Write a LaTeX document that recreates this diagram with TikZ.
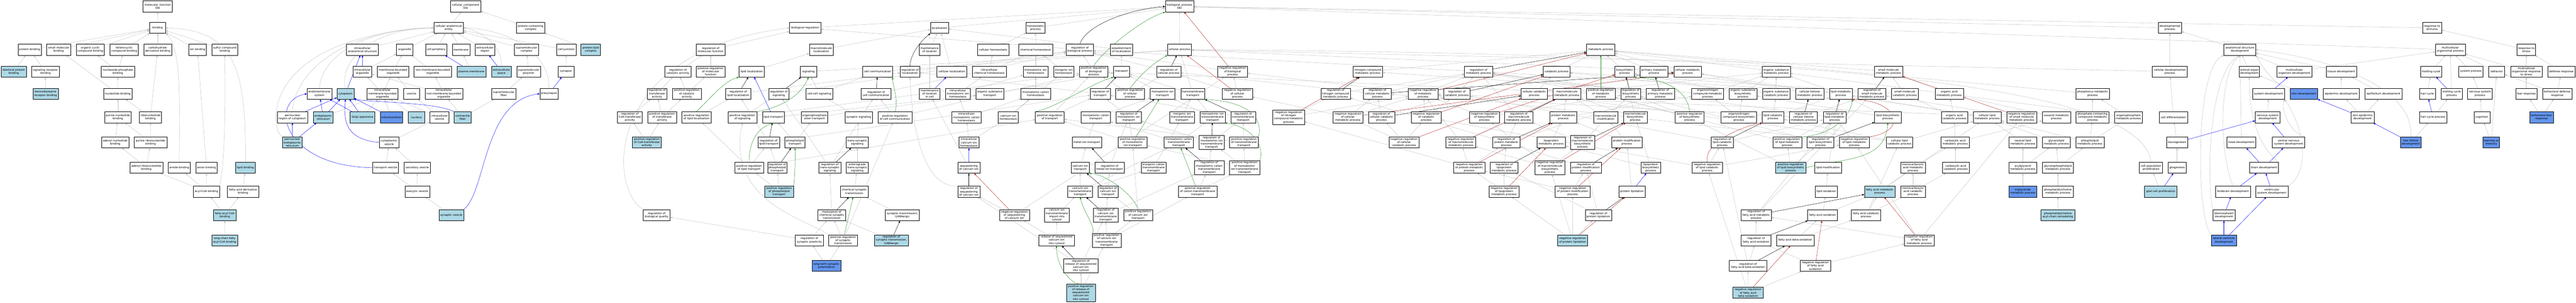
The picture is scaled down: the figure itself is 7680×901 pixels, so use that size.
\documentclass[tikz,border=0pt]{standalone}
\usepackage{fontspec}
\setmainfont{DejaVu Sans}
\usetikzlibrary{arrows.meta}
\pgfdeclarelayer{bg}
\pgfdeclarelayer{paper}
\pgfsetlayers{paper,bg,main}
\definecolor{lblue}{HTML}{ADD8E6}
\definecolor{cblue}{HTML}{6495ED}
\definecolor{egray}{HTML}{C0C0C0}
\definecolor{egreen}{HTML}{228B22}
\definecolor{ered}{HTML}{B22222}
\newcommand{\GoNode}[6]{\node[#5,minimum width=#4] (#1) at (#2,#3) {#6};}
\begin{document}
\begin{tikzpicture}[x=1pt,y=-1pt,
  base/.style={draw=black,line width=0.8pt,rectangle,align=center,font=\fontsize{8.2}{9.6}\selectfont,inner xsep=2.5pt,inner ysep=2.5pt,minimum height=32.8pt},
  w/.style={base,fill=white},
  lb/.style={base,fill=lblue},
  cb/.style={base,fill=cblue},
  edge/.style={line width=0.7pt,-{Triangle[length=6pt,width=5pt]}},
  isa/.style={edge,draw=egray},
  po/.style={edge,draw=blue},
  rg/.style={edge,draw=black},
  pr/.style={edge,draw=egreen},
  nr/.style={edge,draw=ered}]
\useasboundingbox (0,0) rectangle (7680,901);
\begin{pgfonlayer}{paper}
\fill[white] (0,0) rectangle (7680,901);
\end{pgfonlayer}
% ---------- molecular function
\GoNode{mf}{470.2}{19}{87.8}{w}{molecular\_function\\Dbi}
\GoNode{bind}{470}{83}{48}{w}{binding}
\GoNode{protb}{88.2}{148}{69}{w}{protein binding}
\GoNode{smb}{174.7}{148}{71}{w}{small molecule\\binding}
\GoNode{ocb}{269.4}{148}{84}{w}{organic cyclic\\compound binding}
\GoNode{hcb}{370.2}{148}{84}{w}{heterocyclic\\compound binding}
\GoNode{cdb}{470}{148}{83}{w}{carbohydrate\\derivative binding}
\GoNode{ionb}{588.8}{148}{52.7}{w}{ion binding}
\GoNode{sulb}{670.2}{148}{77}{w}{sulfur compound\\binding}
\GoNode{idpb}{41}{213}{75.5}{lb}{identical protein\\binding}
\GoNode{srb}{135.5}{213}{82.4}{w}{signaling receptor\\binding}
\GoNode{npb}{351.6}{213}{99}{w}{nucleoside phosphate\\binding}
\GoNode{bzrb}{135.7}{279}{75.5}{lb}{benzodiazepine\\receptor binding}
\GoNode{ntb}{351.4}{279}{84}{w}{nucleotide binding}
\GoNode{pnb}{351.4}{349}{79}{w}{purine nucleotide\\binding}
\GoNode{rnb}{448.6}{349}{66}{w}{ribonucleotide\\binding}
\GoNode{anb}{343.5}{424}{82}{w}{adenyl nucleotide\\binding}
\GoNode{prb}{448.8}{424}{97}{w}{purine ribonucleotide\\binding}
\GoNode{arb}{436.3}{499}{98}{w}{adenyl ribonucleotide\\binding}
\GoNode{amb}{534.3}{499}{66}{w}{amide binding}
\GoNode{anib}{615.7}{499}{63}{w}{anion binding}
\GoNode{lipb}{731.6}{499}{57.5}{lb}{lipid binding}
\GoNode{acb}{615.5}{570}{77.6}{w}{acyl-CoA binding}
\GoNode{fadb}{724.5}{570}{93}{w}{fatty acid derivative\\binding}
\GoNode{facb}{670}{640}{66.6}{lb}{fatty-acyl-CoA\\binding}
\GoNode{lcfb}{669.8}{715}{77.6}{lb}{long-chain fatty\\acyl-CoA binding}
% ---------- cellular component
\GoNode{cc}{1388.4}{19}{90.2}{w}{cellular\_component\\Dbi}
\GoNode{cae}{1337.6}{83}{88}{w}{cellular anatomical\\entity}
\GoNode{pcc}{1582}{83}{84}{w}{protein-containing\\complex}
\GoNode{ias}{1080.6}{148}{95}{w}{intracellular\\anatomical structure}
\GoNode{org}{1206.3}{148}{48.6}{w}{organelle}
\GoNode{cper}{1300}{148}{62.8}{w}{cell periphery}
\GoNode{mem}{1374.5}{148}{52}{w}{membrane}
\GoNode{exr}{1445.7}{148}{58.8}{w}{extracellular\\region}
\GoNode{smc}{1569.8}{148}{71.8}{w}{supramolecular\\complex}
\GoNode{cj}{1688.4}{148}{57.5}{w}{cell junction}
\GoNode{plc}{1761.2}{148}{58}{lb}{protein-lipid\\complex}
\GoNode{iorg}{1080.4}{213}{56.3}{w}{intracellular\\organelle}
\GoNode{mbo}{1172}{213}{93.5}{w}{membrane-bounded\\organelle}
\GoNode{nmbo}{1290.2}{213}{111.8}{w}{non-membrane-bounded\\organelle}
\GoNode{pm}{1405.5}{213}{86}{lb}{plasma membrane}
\GoNode{exs}{1494.9}{213}{59}{lb}{extracellular\\space}
\GoNode{smp}{1575.9}{213}{71}{w}{supramolecular\\polymer}
\GoNode{syn}{1687.3}{213}{48.2}{w}{synapse}
\GoNode{ems}{952.2}{279}{73.5}{w}{endomembrane\\system}
\GoNode{cyt}{1029.8}{279}{50.6}{lb}{cytoplasm}
\GoNode{imbo}{1140.4}{279}{93}{w}{intracellular\\membrane-bounded\\organelle}
\GoNode{ves}{1226.7}{279}{48.6}{w}{vesicle}
\GoNode{inmbo}{1323.2}{279}{112}{w}{intracellular\\non-membrane-bounded\\organelle}
\GoNode{smf}{1501.8}{279}{71.4}{w}{supramolecular\\fiber}
\GoNode{presyn}{1636.5}{279}{54.3}{w}{presynapse}
\GoNode{prc}{871.9}{349}{91.5}{w}{perinuclear\\region of cytoplasm}
\GoNode{er}{963.9}{349}{59}{lb}{endoplasmic\\reticulum}
\GoNode{golgi}{1080.6}{349}{74}{lb}{Golgi apparatus}
\GoNode{mito}{1167.1}{349}{66.5}{cb}{mitochondrion}
\GoNode{nuc}{1241.4}{349}{48.6}{lb}{nucleus}
\GoNode{ives}{1310.2}{349}{56.3}{w}{intracellular\\vesicle}
\GoNode{cfib}{1379.4}{349}{50.2}{lb}{contractile\\fiber}
\GoNode{per}{871.6}{424}{59}{lb}{perinuclear\\endoplasmic\\reticulum}
\GoNode{cves}{1160}{424}{57}{w}{cytoplasmic\\vesicle}
\GoNode{tves}{1149.8}{499}{76.7}{w}{transport vesicle}
\GoNode{sves}{1243.9}{499}{78.8}{w}{secretory vesicle}
\GoNode{eves}{1244}{570}{73.5}{w}{exocytic vesicle}
\GoNode{synv}{1345.5}{640}{73.9}{lb}{synaptic vesicle}
% ---------- biological process (left)
\GoNode{rcoa}{1877.6}{349}{74.3}{w}{regulation of\\CoA-transferase\\activity}
\GoNode{prcoa}{1928.4}{424}{86}{lb}{positive regulation\\of CoA-transferase\\activity}
\GoNode{rbq}{1957.8}{640}{79.6}{w}{regulation of\\biological quality}
\GoNode{breg}{2400.6}{83}{93.5}{w}{biological regulation}
\GoNode{rmf}{2118.6}{148}{86}{w}{regulation of\\molecular function}
\GoNode{mloc}{2448.6}{148}{71.8}{w}{macromolecule\\localization}
\GoNode{rcat}{2021}{213}{77}{w}{regulation of\\catalytic activity}
\GoNode{prmf}{2118.6}{213}{86}{w}{positive regulation\\of molecular\\function}
\GoNode{lloc}{2240.9}{213}{76}{w}{lipid localization}
\GoNode{sig}{2410.4}{213}{48.6}{w}{signaling}
\GoNode{rtra}{1958.8}{279}{59.6}{w}{regulation of\\transferase\\activity}
\GoNode{prcat}{2047.8}{279}{85.7}{w}{positive regulation\\of catalytic\\activity}
\GoNode{rlloc}{2200.7}{279}{75.5}{w}{regulation of\\lipid localization}
\GoNode{rsig}{2321.8}{279}{59.2}{w}{regulation of\\signaling}
\GoNode{ccs}{2442.4}{279}{80}{w}{cell-cell signaling}
\GoNode{prtra}{1973.9}{349}{85.7}{w}{positive regulation\\of transferase\\activity}
\GoNode{prlloc}{2076.6}{349}{87.8}{w}{positive regulation\\of lipid localization}
\GoNode{prsig}{2213.3}{349}{86}{w}{positive regulation\\of signaling}
\GoNode{ltr}{2305.3}{349}{64.5}{w}{lipid transport}
\GoNode{oetr}{2428.2}{349}{79.2}{w}{organophosphate\\ester transport}
\GoNode{ssig}{2559.8}{349}{82}{w}{synaptic signaling}
\GoNode{rltr}{2291.8}{424}{64.5}{w}{regulation of\\lipid transport}
\GoNode{pltr}{2370.2}{424}{59.6}{w}{phospholipid\\transport}
\GoNode{tss}{2555.7}{424}{65.7}{w}{trans-synaptic\\signaling}
\GoNode{prltr}{2233.3}{499}{86}{w}{positive regulation\\of lipid transport}
\GoNode{rpltr}{2317.1}{499}{48}{w}{regulation of\\phospholipid\\transport}
\GoNode{rtss}{2473.8}{499}{66}{w}{regulation of\\trans-synaptic\\signaling}
\GoNode{atss}{2555.7}{499}{65.7}{w}{anterograde\\trans-synaptic\\signaling}
\GoNode{prpltr}{2322.7}{570}{86}{lb}{positive regulation\\of phospholipid\\transport}
\GoNode{cst}{2547.1}{570}{83}{w}{chemical synaptic\\transmission}
\GoNode{mcst}{2479.8}{640}{82.8}{w}{modulation of\\chemical synaptic\\transmission}
\GoNode{rsp}{2412.9}{715}{84.5}{w}{regulation of\\synaptic plasticity}
\GoNode{prst}{2513.5}{715}{85.7}{w}{positive regulation\\of synaptic\\transmission}
\GoNode{ltp}{2463.9}{791}{86}{cb}{long-term synaptic\\potentiation}
% ---------- localization / homeostasis
\GoNode{loc}{2801.2}{83}{53.9}{w}{localization}
\GoNode{hp}{3087.3}{83}{57}{w}{homeostatic\\process}
\GoNode{mol}{2771.6}{148}{60.8}{w}{maintenance\\of location}
\GoNode{chom}{2961}{148}{95}{w}{cellular homeostasis}
\GoNode{chem}{3087.6}{148}{102.5}{w}{chemical homeostasis}
\GoNode{rbp}{3219.4}{148}{82}{w}{regulation of\\biological process}
\GoNode{ccom}{2616.3}{213}{89.8}{w}{cell communication}
\GoNode{rloc}{2713}{213}{58}{w}{regulation of\\localization}
\GoNode{cloc}{2837.8}{213}{89.4}{w}{cellular localization}
\GoNode{ichem}{2949.4}{213}{102}{w}{intracellular\\chemical homeostasis}
\GoNode{mih}{3087.6}{213}{74.7}{w}{monoatomic ion\\homeostasis}
\GoNode{iih}{3171.6}{213}{61}{w}{inorganic ion\\homeostasis}
\GoNode{rcc}{2612}{279}{89.4}{w}{regulation of\\cell communication}
\GoNode{molc}{2771.6}{279}{60.8}{w}{maintenance\\of location\\in cell}
\GoNode{imih}{2855.7}{279}{74.7}{w}{intracellular\\monoatomic ion\\homeostasis}
\GoNode{ost}{2951}{279}{82.4}{w}{organic substance\\transport}
\GoNode{mch}{3087.6}{279}{87.8}{w}{monoatomic cation\\homeostasis}
\GoNode{prcc}{2668.2}{349}{100.4}{w}{positive regulation\\of cell communication}
\GoNode{imch}{2881.4}{349}{87.8}{w}{intracellular\\monoatomic cation\\homeostasis}
\GoNode{cah}{3006.1}{349}{59.6}{w}{calcium ion\\homeostasis}
\GoNode{prt}{3129.8}{349}{85.7}{w}{positive regulation\\of transport}
\GoNode{icah}{2888.8}{424}{59.2}{w}{intracellular\\calcium ion\\homeostasis}
\GoNode{seq}{2888.4}{499}{65.7}{w}{sequestering\\of calcium ion}
\GoNode{rseq}{2888.4}{570}{65.7}{w}{regulation of\\sequestering\\of calcium ion}
\GoNode{stg}{2690.4}{640}{101.6}{w}{synaptic transmission,\\GABAergic}
\GoNode{nrseq}{3024.3}{640}{88.6}{w}{negative regulation\\of sequestering\\of calcium ion}
\GoNode{caimp}{3150.8}{640}{73}{w}{calcium ion\\transmembrane\\import into\\cytosol}
\GoNode{rstg}{2657.6}{715}{102}{lb}{regulation of\\synaptic transmission,\\GABAergic}
\GoNode{rel}{3150}{715}{105}{w}{release of sequestered\\calcium ion\\into cytosol}
\GoNode{rrel}{3222.2}{791}{104}{w}{regulation of\\release of sequestered\\calcium ion\\into cytosol}
\GoNode{prrel}{3222.2}{871}{86}{lb}{positive regulation\\of release of\\sequestered\\calcium ion\\into cytosol}
% ---------- transport
\GoNode{bp}{3516.7}{19}{85}{w}{biological\_process\\Dbi}
\GoNode{eloc}{3343.5}{148}{66.5}{w}{establishment\\of localization}
\GoNode{cp}{3516.5}{148}{71.4}{w}{cellular process}
\GoNode{prbp}{3260.6}{213}{85.3}{w}{positive regulation\\of biological\\process}
\GoNode{tr}{3343.7}{213}{48.2}{w}{transport}
\GoNode{rcp}{3484.5}{213}{71.8}{w}{regulation of\\cellular process}
\GoNode{nrbp}{3674.9}{213}{89.4}{w}{negative regulation\\of biological\\process}
\GoNode{rtr}{3280}{279}{59.6}{w}{regulation of\\transport}
\GoNode{prcp}{3369.4}{279}{85.7}{w}{positive regulation\\of cellular\\process}
\GoNode{mit}{3465.9}{279}{73.9}{w}{monoatomic ion\\transport}
\GoNode{tmt}{3556.3}{279}{71.8}{w}{transmembrane\\transport}
\GoNode{nrcp}{3689.2}{279}{89.4}{w}{negative regulation\\of cellular\\process}
\GoNode{mct}{3267.1}{349}{87.8}{w}{monoatomic cation\\transport}
\GoNode{rmit}{3365.1}{349}{74.7}{w}{regulation of\\monoatomic ion\\transport}
\GoNode{iitt}{3524.1}{349}{72.7}{w}{inorganic ion\\transmembrane\\transport}
\GoNode{mitt}{3615.1}{349}{74.3}{w}{monoatomic ion\\transmembrane\\transport}
\GoNode{rtmt}{3706.1}{349}{73.5}{w}{regulation of\\transmembrane\\transport}
\GoNode{nrncm}{3841.7}{349}{94.7}{w}{negative regulation\\of nitrogen\\compound metabolic\\process}
\GoNode{metit}{3240.4}{424}{87.3}{w}{metal ion transport}
\GoNode{prmit}{3376.7}{424}{85.7}{w}{positive regulation\\of monoatomic\\ion transport}
\GoNode{mctt}{3514.3}{424}{88.2}{w}{monoatomic cation\\transmembrane\\transport}
\GoNode{rmitt}{3612.2}{424}{75.1}{w}{regulation of\\monoatomic ion\\transmembrane\\transport}
\GoNode{prtmt}{3708.6}{424}{85.7}{w}{positive regulation\\of transmembrane\\transport}
\GoNode{cat}{3220.6}{499}{53.4}{w}{calcium ion\\transport}
\GoNode{rmet}{3308.2}{499}{87.3}{w}{regulation of\\metal ion transport}
\GoNode{ictt}{3439.3}{499}{73.9}{w}{inorganic cation\\transmembrane\\transport}
\GoNode{rmctt}{3605.1}{499}{88.6}{w}{regulation of\\monoatomic cation\\transmembrane\\transport}
\GoNode{prmitt}{3710.6}{499}{89.8}{w}{positive regulation\\of monoatomic\\ion transmembrane\\transport}
\GoNode{catt}{3220.4}{570}{73.4}{w}{calcium ion\\transmembrane\\transport}
\GoNode{rcait}{3303.5}{570}{59.2}{w}{regulation of\\calcium ion\\transport}
\GoNode{prctt}{3570.6}{570}{114.3}{w}{positive regulation\\of cation transmembrane\\transport}
\GoNode{rcatt}{3296.5}{640}{73.9}{w}{regulation of\\calcium ion\\transmembrane\\transport}
\GoNode{prcait}{3393}{640}{85.7}{w}{positive regulation\\of calcium ion\\transport}
\GoNode{prcatt}{3299.2}{715}{85.7}{w}{positive regulation\\of calcium ion\\transmembrane\\transport}
% ---------- metabolic regulation
\GoNode{ncmp}{4078}{213}{88.2}{w}{nitrogen compound\\metabolic process}
\GoNode{rmp}{4408.2}{213}{84}{w}{regulation of\\metabolic process}
\GoNode{rncmp}{3981.8}{279}{87.8}{w}{regulation of\\nitrogen compound\\metabolic process}
\GoNode{rcmp}{4106.5}{279}{82.4}{w}{regulation of\\cellular metabolic\\process}
\GoNode{nrmp}{4242.7}{279}{89.4}{w}{negative regulation\\of metabolic\\process}
\GoNode{rcatp}{4343.3}{279}{79.2}{w}{regulation of\\catabolic process}
\GoNode{nrcmp}{4018.6}{349}{89.4}{w}{negative regulation\\of cellular\\metabolic process}
\GoNode{rccp}{4118.4}{349}{78.4}{w}{regulation of\\cellular catabolic\\process}
\GoNode{nrcatp}{4252.2}{349}{89}{w}{negative regulation\\of catabolic\\process}
\GoNode{nrbsp}{4425.5}{349}{89.4}{w}{negative regulation\\of biosynthetic\\process}
\GoNode{nrccp}{4185.9}{424}{89.4}{w}{negative regulation\\of cellular\\catabolic process}
\GoNode{nrmmp}{4355.5}{424}{89}{w}{negative regulation\\of macromolecule\\metabolic process}
\GoNode{rpmp}{4491}{424}{80.8}{w}{regulation of\\protein metabolic\\process}
\GoNode{nrpmp}{4380}{499}{93}{w}{negative regulation\\of protein metabolic\\process}
\GoNode{rlpmp}{4484.3}{499}{83.7}{w}{regulation of\\lipoprotein\\metabolic process}
\GoNode{nrlpmp}{4484.1}{570}{89.8}{w}{negative regulation\\of lipoprotein\\metabolic process}
% ---------- metabolic
\GoNode{mp}{4772.4}{148}{84.5}{w}{metabolic process}
\GoNode{catp}{4641}{213}{79.6}{w}{catabolic process}
\GoNode{bsp}{4843.5}{213}{57.5}{w}{biosynthetic\\process}
\GoNode{pmp}{4931}{213}{84}{w}{primary metabolic\\process}
\GoNode{cmp}{5031.4}{213}{82.4}{w}{cellular metabolic\\process}
\GoNode{ccatp}{4574.1}{279}{78}{w}{cellular catabolic\\process}
\GoNode{mmp}{4671.4}{279}{84}{w}{macromolecule\\metabolic process}
\GoNode{prmp}{4772.4}{279}{86}{w}{positive regulation\\of metabolic\\process}
\GoNode{rbsp}{4861.6}{279}{58.8}{w}{regulation of\\biosynthetic\\process}
\GoNode{rprmp}{4949.8}{279}{85}{w}{regulation of\\primary metabolic\\process}
\GoNode{oncmp}{5091}{279}{95.5}{w}{organonitrogen\\compound metabolic\\process}
\GoNode{rmmp}{4527.8}{349}{84}{w}{regulation of\\macromolecule\\metabolic process}
\GoNode{protmp}{4660.8}{349}{80.8}{w}{protein metabolic\\process}
\GoNode{mmod}{4787.3}{349}{71}{w}{macromolecule\\modification}
\GoNode{mbsp}{4875.1}{349}{71}{w}{macromolecule\\biosynthetic\\process}
\GoNode{prbsp}{5037.3}{349}{86}{w}{positive regulation\\of biosynthetic\\process}
\GoNode{lpmp}{4624.5}{424}{84}{w}{lipoprotein\\metabolic process}
\GoNode{rmbsp}{4718}{424}{71}{w}{regulation of\\macromolecule\\biosynthetic\\process}
\GoNode{pmod}{4850.2}{424}{91.4}{w}{protein modification\\process}
\GoNode{rlcp}{5134.7}{424}{65.3}{w}{regulation of\\lipid catabolic\\process}
\GoNode{nrmbsp}{4621}{499}{89.4}{w}{negative regulation\\of macromolecule\\biosynthetic\\process}
\GoNode{rpmod}{4727.8}{499}{91.4}{w}{regulation of\\protein modification\\process}
\GoNode{lpbsp}{4921.4}{499}{57.5}{w}{lipoprotein\\biosynthetic\\process}
\GoNode{nrlcp}{5089.6}{499}{90}{w}{negative regulation\\of lipid catabolic\\process}
\GoNode{nrpmod}{4688.6}{570}{103.7}{w}{negative regulation\\of protein modification\\process}
\GoNode{plip}{4865.3}{570}{78.4}{w}{protein lipidation}
\GoNode{rplip}{4765.3}{640}{78.4}{w}{regulation of\\protein lipidation}
\GoNode{nrplip}{4688.4}{715}{90.2}{lb}{negative regulation\\of protein lipidation}
% ---------- lipid metabolism
\GoNode{osmp}{5295.5}{213}{84}{w}{organic substance\\metabolic process}
\GoNode{smmp}{5630.2}{213}{84}{w}{small molecule\\metabolic process}
\GoNode{osbsp}{5196.3}{279}{82.4}{w}{organic substance\\biosynthetic\\process}
\GoNode{oscp}{5295.3}{279}{82}{w}{organic substance\\catabolic process}
\GoNode{ckmp}{5395.5}{279}{84}{w}{cellular ketone\\metabolic process}
\GoNode{lmp}{5488.2}{279}{67.8}{w}{lipid metabolic\\process}
\GoNode{rsmmp}{5580.8}{279}{84}{w}{regulation of\\small molecule\\metabolic process}
\GoNode{smcp}{5679}{279}{79.6}{w}{small molecule\\catabolic process}
\GoNode{oncbsp}{5184.1}{349}{106}{w}{organonitrogen\\compound biosynthetic\\process}
\GoNode{lcp}{5286}{349}{65}{w}{lipid catabolic\\process}
\GoNode{rckmp}{5376.5}{349}{83.7}{w}{regulation of\\cellular ketone\\metabolic process}
\GoNode{rlmp}{5469.6}{349}{68.2}{w}{regulation of\\lipid metabolic\\process}
\GoNode{lbsp}{5628.2}{349}{79.2}{w}{lipid biosynthetic\\process}
\GoNode{prlmp}{5328.2}{424}{85.7}{w}{positive regulation\\of lipid metabolic\\process}
\GoNode{rlbsp}{5427.6}{424}{79.6}{w}{regulation of\\lipid biosynthetic\\process}
\GoNode{nrlmp}{5528.2}{424}{89.8}{w}{negative regulation\\of lipid metabolic\\process}
\GoNode{clcp}{5662.9}{424}{78.4}{w}{cellular lipid\\catabolic process}
\GoNode{prlbsp}{5338.4}{499}{89.8}{lb}{positive regulation\\of lipid biosynthetic\\process}
\GoNode{lmod}{5449.8}{499}{79.2}{w}{lipid modification}
\GoNode{mcamp}{5703.3}{499}{73.5}{w}{monocarboxylic\\acid metabolic\\process}
\GoNode{lox}{5444.5}{570}{66}{w}{lipid oxidation}
\GoNode{famp}{5604.1}{570}{91.4}{lb}{fatty acid metabolic\\process}
\GoNode{mcacp}{5703.3}{570}{73.5}{w}{monocarboxylic\\acid catabolic\\process}
\GoNode{rfamp}{5235.7}{640}{91.8}{w}{regulation of\\fatty acid metabolic\\process}
\GoNode{fao}{5433.7}{640}{89.4}{w}{fatty acid oxidation}
\GoNode{facp}{5563.3}{640}{87.3}{w}{fatty acid catabolic\\process}
\GoNode{rfao}{5235.3}{715}{88.6}{w}{regulation of\\fatty acid oxidation}
\GoNode{fabo}{5352.4}{715}{111.4}{w}{fatty acid beta-oxidation}
\GoNode{nrfamp}{5722}{715}{89}{w}{negative regulation\\of fatty acid\\metabolic process}
\GoNode{rfabo}{5211.6}{791}{111.4}{w}{regulation of\\fatty acid beta-oxidation}
\GoNode{nrfao}{5412.2}{791}{89.8}{w}{negative regulation\\of fatty acid\\oxidation}
\GoNode{nrfabo}{5211.4}{871}{89.8}{lb}{negative regulation\\of fatty acid\\beta-oxidation}
\GoNode{oamp}{5811.2}{279}{84.5}{w}{organic acid\\metabolic process}
\GoNode{phmp}{6238.8}{279}{100.4}{w}{phosphorus metabolic\\process}
\GoNode{oacp}{5826.7}{349}{78.8}{w}{organic acid\\catabolic process}
\GoNode{clmp}{5924.5}{349}{84}{w}{cellular lipid\\metabolic process}
\GoNode{nrsmmp}{6027.3}{349}{89}{w}{negative regulation\\of small molecule\\metabolic process}
\GoNode{oxmp}{6130.8}{349}{84.5}{w}{oxoacid metabolic\\process}
\GoNode{pccmp}{6238.6}{349}{98.4}{w}{phosphate-containing\\compound metabolic\\process}
\GoNode{opmp}{6345.7}{349}{84}{w}{organophosphate\\metabolic process}
\GoNode{camp}{5829}{424}{84}{w}{carboxylic acid\\metabolic process}
\GoNode{nlmp}{6030.8}{424}{83.7}{w}{neutral lipid\\metabolic process}
\GoNode{glmp}{6130.8}{424}{83.7}{w}{glycerolipid\\metabolic process}
\GoNode{plmp}{6230.6}{424}{84}{w}{phospholipid\\metabolic process}
\GoNode{cacp}{5831}{499}{79.2}{w}{carboxylic acid\\catabolic process}
\GoNode{agmp}{6030.8}{499}{83.7}{w}{acylglycerol\\metabolic process}
\GoNode{gplmp}{6135.3}{499}{91.8}{w}{glycerophospholipid\\metabolic process}
\GoNode{cpp}{6412.9}{499}{69}{w}{cell population\\proliferation}
\GoNode{tgmp}{6030.8}{570}{83.7}{cb}{triglyceride\\metabolic process}
\GoNode{pcmp}{6135.3}{570}{91.8}{w}{phosphatidylcholine\\metabolic process}
\GoNode{gcp}{6442}{570}{97}{lb}{glial cell proliferation}
\GoNode{pcacr}{6135.1}{640}{100.4}{lb}{phosphatidylcholine\\acyl-chain remodeling}
% ---------- development
\GoNode{devp}{6469}{83}{70.2}{w}{developmental\\process}
\GoNode{asd}{6677.8}{148}{95}{w}{anatomical structure\\development}
\GoNode{cdp}{6468.8}{213}{105}{w}{cellular developmental\\process}
\GoNode{aod}{6705.9}{213}{60.8}{w}{animal organ\\development}
\GoNode{mod}{6840.2}{213}{105.7}{w}{multicellular\\organism development}
\GoNode{td}{6980.4}{213}{89.8}{w}{tissue development}
\GoNode{sd}{6763.3}{279}{96.3}{w}{system development}
\GoNode{skd}{6868.6}{279}{82.4}{cb}{skin development}
\GoNode{epd}{6980.2}{279}{107.3}{w}{epidermis development}
\GoNode{cdiff}{6479.6}{349}{84}{w}{cell differentiation}
\GoNode{nsd}{6760.6}{349}{73.9}{w}{nervous system\\development}
\GoNode{sepd}{7043.5}{349}{68}{w}{skin epidermis\\development}
\GoNode{ngen}{6490.4}{424}{62.4}{w}{neurogenesis}
\GoNode{hd}{6682.4}{424}{85.7}{w}{head development}
\GoNode{cnsd}{6823.1}{424}{96.7}{w}{central nervous\\system development}
\GoNode{glio}{6490.4}{499}{54.3}{w}{gliogenesis}
\GoNode{bd}{6750}{499}{86}{w}{brain development}
\GoNode{fbd}{6657.1}{570}{103.7}{w}{forebrain development}
\GoNode{vsd}{6773}{570}{96.3}{w}{ventricular\\system development}
\GoNode{ted}{6630.4}{640}{65.7}{w}{telencephalon\\development}
\GoNode{lvd}{6630.4}{715}{73.9}{cb}{lateral ventricle\\development}
\GoNode{rstim}{7250.8}{83}{55.9}{w}{response to\\stimulus}
\GoNode{mop}{7304.9}{148}{89}{w}{multicellular\\organismal process}
\GoNode{rstr}{7531.6}{148}{55.1}{w}{response to\\stress}
\GoNode{mc}{7248}{213}{63.3}{w}{molting cycle}
\GoNode{sp}{7366.5}{213}{72.7}{w}{system process}
\GoNode{beh}{7443.5}{213}{47.8}{w}{behavior}
\GoNode{mors}{7532}{213}{95}{w}{multicellular\\organismal response\\to stress}
\GoNode{dr}{7636.3}{213}{80.8}{w}{defense response}
\GoNode{epid}{7105.9}{279}{111.4}{w}{epithelium development}
\GoNode{hc}{7236.5}{279}{47.8}{w}{hair cycle}
\GoNode{mcp}{7309}{279}{62.9}{w}{molting cycle\\process}
\GoNode{nsp}{7393.5}{279}{73.5}{w}{nervous system\\process}
\GoNode{fr}{7532}{279}{63.3}{w}{fear response}
\GoNode{bdr}{7623.9}{279}{87.8}{w}{behavioral defense\\response}
\GoNode{hcp}{7253.5}{349}{81.6}{w}{hair cycle process}
\GoNode{cog}{7399.6}{349}{48.2}{w}{cognition}
\GoNode{bfr}{7577.3}{349}{69.8}{cb}{behavioral fear\\response}
\GoNode{hfd}{7187.3}{424}{61.2}{cb}{hair follicle\\development}
\GoNode{lom}{7427.3}{424}{49.8}{cb}{learning or\\memory}
% ================= edges
\begin{pgfonlayer}{bg}
\foreach \p/\q in {bind/mf, protb/bind, smb/bind, ocb/bind, hcb/bind, cdb/bind, ionb/bind, sulb/bind, idpb/protb, srb/protb, bzrb/srb, npb/ocb, npb/hcb, ntb/npb, ntb/smb, pnb/ntb, rnb/ntb, rnb/cdb, anb/pnb, prb/pnb, prb/rnb, arb/anb, arb/prb, acb/arb, acb/amb, acb/anib, anib/ionb, facb/acb, facb/fadb, fadb/lipb, lcfb/facb,
cae/cc, pcc/cc, ias/cae, org/cae, cper/cae, mem/cae, exr/cae, smc/cae, cj/cae, plc/pcc, iorg/org, mbo/org, nmbo/org, imbo/iorg, imbo/mbo, ves/mbo, inmbo/nmbo, inmbo/iorg, er/imbo, golgi/imbo, mito/imbo, nuc/imbo, ives/ves, ives/imbo, cfib/inmbo, cfib/smf, cves/ives, tves/cves, sves/cves, eves/tves, eves/sves, synv/eves, pm/mem, smp/smc, smf/smp, syn/cj,
rcoa/rtra, prcoa/rcoa, prcoa/prtra, rsp/rbq, rmf/breg, rcat/rmf, prmf/rmf, rtra/rcat, prcat/rcat, prcat/prmf, prtra/rtra, prtra/prcat, lloc/mloc, mloc/loc, rlloc/rloc, prlloc/rlloc, rsig/rbp, ccs/sig, ccs/ccom, prsig/rsig, prsig/prbp, ltr/ost, oetr/ost, ssig/ccs, rltr/rlloc, rltr/rtr, pltr/ltr, pltr/oetr, tss/ssig, prltr/rltr, prltr/prlloc, prltr/prt, rpltr/rltr, rtss/rsig, rtss/rcc, atss/tss, prpltr/prltr, prpltr/rpltr, cst/atss, mcst/rtss, rsp/mcst, prst/mcst, prst/prcc, ltp/rsp, ltp/prst, sig/cp,
loc/bp, hp/bp, breg/bp, mol/loc, cloc/loc, chom/hp, chem/hp, rbp/breg, ccom/cp, rloc/rbp, ichem/chem, ichem/chom, mih/chem, iih/chem, rcc/rbp, prcc/rcc, prcc/prbp, molc/mol, imih/ichem, imih/mih, ost/tr, mch/mih, imch/imih, imch/mch, cah/mch, cah/iih, prt/rtr, prt/prbp, icah/imch, icah/cah, seq/molc, stg/cst, nrseq/rseq, nrseq/nrbp, rstg/mcst, caimp/catt, rel/caimp, rel/nrseq, rrel/rseq, rrel/rcatt, prrel/rrel, prrel/prcatt,
cp/bp, eloc/loc, prbp/rbp, tr/eloc, rcp/rbp, nrbp/rbp, rtr/rloc, prcp/rcp, prcp/prbp, mit/tr, tmt/tr, tmt/cp, nrcp/nrbp, nrcp/rcp, mct/mit, rmit/rtr, iitt/tmt, mitt/tmt, mitt/mit, rtmt/rtr, metit/mct, prmit/rmit, prmit/prt, mctt/mitt, mctt/mct, rmitt/rtmt, rmitt/rmit, prtmt/rtmt, prtmt/prt, cat/metit, rmet/rmit, ictt/iitt, rmctt/rmitt, prmitt/rmitt, prmitt/prtmt, prmitt/prmit, catt/cat, catt/ictt, catt/mctt, rcait/rmet, prctt/rmctt, prctt/prmitt, rcatt/rcait, rcatt/rmctt, prcait/rcait, prcait/prmit, prcatt/rcatt, prcatt/prcait, prcatt/prctt, nrncm/rncmp, nrncm/nrmp,
ncmp/mp, rmp/rbp, rncmp/rmp, rcmp/rmp, rcmp/rcp, nrmp/rmp, nrmp/nrbp, rcatp/rmp, nrcmp/rcmp, nrcmp/nrmp, nrcmp/nrcp, rccp/rcmp, rccp/rcatp, nrcatp/nrmp, nrcatp/rcatp, nrbsp/rbsp, nrbsp/nrmp, nrccp/nrcmp, nrccp/rccp, nrccp/nrcatp, nrmmp/nrmp, nrmmp/rmmp, rpmp/rmmp, rpmp/rprmp, rpmp/rncmp, nrpmp/rpmp, nrpmp/nrmmp, nrpmp/nrncm, rlpmp/rpmp, nrlpmp/rlpmp, nrlpmp/nrpmp,
catp/mp, bsp/mp, pmp/mp, cmp/mp, cmp/cp, ccatp/catp, ccatp/cmp, mmp/osmp, prmp/rmp, prmp/prbp, rbsp/rmp, rprmp/rmp, oncmp/ncmp, oncmp/osmp, rmmp/rmp, protmp/mmp, protmp/oncmp, mmod/mmp, mbsp/mmp, mbsp/bsp, prbsp/rbsp, prbsp/prmp, lpmp/protmp, rmbsp/rbsp, rmbsp/rmmp, pmod/mmod, pmod/protmp, rlcp/rcatp, rlcp/rlmp, nrmbsp/rmbsp, nrmbsp/nrmmp, nrmbsp/nrbsp, rpmod/rpmp, lpbsp/mbsp, lpbsp/lpmp, nrlcp/rlcp, nrlcp/nrlmp, nrlcp/nrcatp, nrpmod/rpmod, nrpmod/nrpmp, plip/pmod, rplip/rpmod, rplip/rlpmp, nrplip/rplip, nrplip/nrpmod, nrplip/nrmbsp, nrplip/nrlpmp,
osmp/mp, smmp/mp, osbsp/osmp, osbsp/bsp, oscp/osmp, oscp/catp, ckmp/cmp, lmp/osmp, lmp/pmp, rsmmp/rmp, smcp/smmp, smcp/catp, oncbsp/oncmp, oncbsp/osbsp, lcp/lmp, lcp/oscp, rckmp/rsmmp, rckmp/rcmp, rlmp/rmp, lbsp/lmp, lbsp/osbsp, prlmp/rlmp, prlmp/prmp, rlbsp/rlmp, rlbsp/rbsp, nrlmp/rlmp, nrlmp/nrmp, clcp/lcp, clcp/clmp, clcp/ccatp, prlbsp/prlmp, prlbsp/rlbsp, prlbsp/prbsp, lmod/lmp, mcamp/camp, lox/lmod, famp/mcamp, famp/clmp, mcacp/mcamp, mcacp/cacp, rfamp/rlmp, rfamp/rsmmp, fao/lox, fao/famp, facp/famp, facp/mcacp, facp/clcp, rfao/rfamp, fabo/fao, fabo/facp, nrfamp/rfamp, nrfamp/nrlmp, nrfamp/nrsmmp, rfabo/rfao, rfabo/rlcp, nrfao/rfao, nrfao/nrfamp, nrfabo/rfabo, nrfabo/nrfao, nrfabo/nrlcp,
oamp/smmp, phmp/mp, oacp/oamp, oacp/smcp, clmp/lmp, clmp/cmp, nrsmmp/rsmmp, nrsmmp/nrmp, oxmp/oamp, pccmp/phmp, opmp/phmp, opmp/osmp, camp/oxmp, nlmp/clmp, glmp/clmp, plmp/clmp, plmp/pccmp, plmp/opmp, cacp/camp, cacp/oacp, agmp/nlmp, agmp/glmp, gplmp/glmp, gplmp/plmp, tgmp/agmp, pcmp/gplmp, pcacr/pcmp, gcp/cpp,
devp/bp, asd/devp, cdp/devp, cdp/cp, cdiff/cdp, ngen/cdiff, glio/ngen, aod/asd, mod/asd, mod/mop, td/asd, skd/aod, epd/td, nsd/sd, sepd/epd, sepd/epid, hd/asd, epid/td, hfd/hcp, rstim/bp, mop/bp, rstr/rstim, mc/mop, sp/mop, beh/mop, mors/rstr, mors/mop, dr/rstr, hc/mc, mcp/mop, nsp/sp, fr/mors, bdr/dr, bdr/beh, hcp/mcp, cog/nsp, bfr/fr, bfr/bdr, lom/cog, lom/beh}
  \draw[isa] (\p) -- (\q);
% curved is_a
\draw[isa] (amb.north) .. controls (536,300) and (540,140) .. (bind.south east);
\draw[isa] (lipb.north) .. controls (734,200) and (700,90) .. (bind.east);
\draw[isa] (acb.north east) .. controls (672,480) and (672,300) .. (sulb.south);
\draw[isa] (ems.north) .. controls (960,160) and (1100,85) .. (cae.west);
\draw[isa] (prc.north) .. controls (880,200) and (1050,85) .. (cae.west);
\draw[isa] (per.north west) .. controls (800,380) and (780,110) .. (cae.west);
\draw[isa] (cyt.north) .. controls (1010,190) and (1100,85) .. (cae.west);
\draw[isa] (exs.north) .. controls (1500,130) and (1420,88) .. (cae.east);
\draw[isa] (presyn.north) .. controls (1640,150) and (1500,85) .. (cae.east);
\draw[isa] (rbq.north west) .. controls (1810,560) and (1800,150) .. (breg.west);
\draw[isa] (cpp.north) .. controls (6390,300) and (5800,160) .. (cp.east);
\draw[isa] (prst.north west) .. controls (2400,650) and (2165,600) .. (prsig.south);
\draw[isa] (hfd.north) .. controls (7200,280) and (7000,180) .. (asd.east);
\draw[isa] (lvd.north west) .. controls (6545,650) and (6545,200) .. (asd.south west);
\draw[isa] (ted.north west) .. controls (6580,560) and (6580,220) .. (asd.south);
\draw[isa] (fbd.north) .. controls (6615,450) and (6615,220) .. (asd.south);
\draw[isa] (sd.north east) .. controls (6770,240) and (6740,190) .. (asd.south east);
\draw[isa] (bd.north east) .. controls (6740,440) and (6705,360) .. (aod.south);
\draw[isa] (cnsd.north east) .. controls (6820,390) and (6800,320) .. (sd.south east);
\draw[isa] (vsd.north east) .. controls (6880,520) and (6880,400) .. (sd.south east);
\draw[isa] (rseq.north west) .. controls (2760,560) and (2720,400) .. (rloc.south);
% part_of
\foreach \p/\q in {cyt/ias, iorg/ias, prc/cyt, er/cyt, er/ems, golgi/cyt, golgi/ems, mito/cyt, per/prc, per/er, pm/cper, exs/exr, presyn/syn, molc/cloc, seq/icah, ltr/lloc, plip/lpbsp, gcp/glio, ngen/nsd, sd/mod, sepd/skd, cnsd/nsd, bd/hd, bd/cnsd, fbd/bd, vsd/bd, ted/fbd, lvd/ted, lvd/vsd, hfd/sepd, mcp/mc, hcp/hc}
  \draw[po] (\p) -- (\q);
\draw[po] (cfib.north west) .. controls (1300,306) and (1150,306) .. (cyt.south east);
\draw[po] (cves.west) .. controls (1030,415) and (1024,360) .. (cyt.south);
\draw[po] (tves.west) .. controls (840,495) and (800,300) .. (ems.west);
\draw[po] (synv.north east) .. controls (1450,570) and (1440,300) .. (presyn.west);
% regulates
\foreach \p/\q in {rlloc/lloc, rsig/sig, rltr/ltr, rpltr/pltr, rtss/tss, mcst/cst, rstg/stg, rcc/ccom, rseq/seq, rrel/rel, rcp/cp, rtr/tr, rmit/mit, rtmt/tmt, rmet/metit, rmitt/mitt, rmctt/mctt, rcait/cat, rcatt/catt, rncmp/ncmp, rmp/mp, rcmp/cmp, rcatp/catp, rccp/ccatp, rpmp/protmp, rlpmp/lpmp, rbsp/bsp, rprmp/pmp, rmmp/mmp, rmbsp/mbsp, rpmod/pmod, rplip/plip, rlcp/lcp, rsmmp/smmp, rckmp/ckmp, rlmp/lmp, rlbsp/lbsp, rfamp/famp, rfao/fao, rfabo/fabo}
  \draw[rg] (\p) -- (\q);
\draw[rg] (rloc.north) .. controls (2715,150) and (2760,110) .. (loc.south west);
\draw[rg] (rbp.north) .. controls (3235,80) and (3350,30) .. (bp.west);
% positively regulates
\foreach \p/\q in {prmit/mit, prctt/mctt, prmp/mp, prst/cst}
  \draw[pr] (\p) -- (\q);
\draw[pr] (prlloc.north) .. controls (2110,300) and (2160,240) .. (lloc.south west);
\draw[pr] (prsig.north east) .. controls (2300,325) and (2380,300) .. (sig.south);
\draw[pr] (prltr.north) .. controls (2233,420) and (2260,380) .. (ltr.south);
\draw[pr] (prpltr.north east) .. controls (2370,530) and (2371,470) .. (pltr.south);
\draw[pr] (prcc.north) .. controls (2680,300) and (2660,250) .. (ccom.south east);
\draw[pr] (prt.north west) .. controls (3150,320) and (3250,250) .. (tr.south west);
\draw[pr] (prbp.north) .. controls (3290,150) and (3400,60) .. (bp.south west);
\draw[pr] (prcp.north) .. controls (3400,220) and (3450,180) .. (cp.south west);
\draw[pr] (prtmt.north east) .. controls (3760,380) and (3760,305) .. (tmt.south east);
\draw[pr] (prmitt.north east) .. controls (3770,440) and (3740,380) .. (mitt.south east);
\draw[pr] (prcait.north) .. controls (3380,580) and (3300,520) .. (cat.south east);
\draw[pr] (prcatt.north west) .. controls (3270,680) and (3230,630) .. (catt.south);
\draw[pr] (prrel.north) .. controls (3200,850) and (3150,800) .. (rel.south);
\draw[pr] (prbsp.north) .. controls (5030,260) and (4950,235) .. (bsp.south east);
\draw[pr] (prlmp.north east) .. controls (5480,400) and (5520,330) .. (lmp.south east);
\draw[pr] (prlbsp.east) .. controls (5500,470) and (5620,480) .. (lbsp.south);
% negatively regulates
\foreach \p/\q in {nrbp/bp, nrcp/cp, nrseq/seq, nrncm/ncmp, nrmp/mp, nrcmp/cmp, nrcatp/catp, nrbsp/bsp, nrccp/ccatp, nrmmp/mmp, nrpmp/protmp, nrlpmp/lpmp, nrmbsp/mbsp, nrpmod/pmod, nrplip/plip, nrsmmp/smmp, nrfamp/famp, nrfao/fao, nrfabo/fabo}
  \draw[nr] (\p) -- (\q);
\draw[nr] (nrlmp.north east) .. controls (5690,390) and (5660,300) .. (lmp.south east);
\draw[nr] (nrlcp.north) .. controls (5080,420) and (5200,375) .. (lcp.south west);
\end{pgfonlayer}
\end{tikzpicture}
\end{document}
